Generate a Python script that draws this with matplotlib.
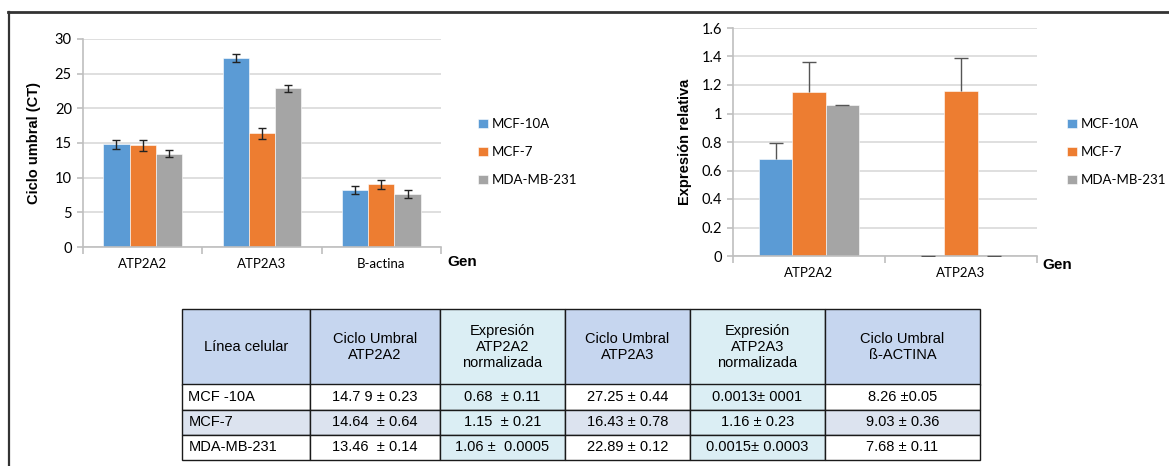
import matplotlib
matplotlib.use('Agg')
import matplotlib.pyplot as plt
from matplotlib.lines import Line2D
import numpy as np

# data
lineas = ['MCF-10A', 'MCF-7', 'MDA-MB-231']
colores = ['#5b9bd5', '#ed7d31', '#a5a5a5']

genes_ct = ['ATP2A2', 'ATP2A3', 'B-actina']
ct_mcf10a = [14.79, 27.25, 8.26]
ct_mcf7 = [14.64, 16.43, 9.03]
ct_mda = [13.46, 22.89, 7.68]
ct_err_mcf10a = [0.6, 0.6, 0.6]
ct_err_mcf7 = [0.8, 0.8, 0.6]
ct_err_mda = [0.5, 0.5, 0.6]

genes_expr = ['ATP2A2', 'ATP2A3']
expr_mcf10a = [0.68, 0.0013]
expr_mcf7 = [1.15, 1.16]
expr_mda = [1.06, 0.0015]
expr_err_mcf10a = [0.11, 0.0001]
expr_err_mcf7 = [0.21, 0.23]
expr_err_mda = [0.0005, 0.0003]

tabla_cabecera = ['Línea celular', 'Ciclo Umbral\nATP2A2', 'Expresión\nATP2A2\nnormalizada',
                  'Ciclo Umbral\nATP2A3', 'Expresión\nATP2A3\nnormalizada', 'Ciclo Umbral\nß-ACTINA']
tabla_filas = [
    ['MCF -10A', '14.7 9 ± 0.23', '0.68  ± 0.11', '27.25 ± 0.44', '0.0013± 0001', '8.26 ±0.05'],
    ['MCF-7', '14.64  ± 0.64', '1.15  ± 0.21', '16.43 ± 0.78', '1.16 ± 0.23', '9.03 ± 0.36'],
    ['MDA-MB-231', '13.46  ± 0.14', '1.06 ±  0.0005', '22.89 ± 0.12', '0.0015± 0.0003', '7.68 ± 0.11'],
]

W, H = 1169, 466
plt.rcParams['font.family'] = ['Lato', 'DejaVu Sans']
fig = plt.figure(figsize=(W / 100, H / 100), dpi=100)


def px_axes(x0, y0, x1, y1):
    return fig.add_axes([x0 / W, 1 - y1 / H, (x1 - x0) / W, (y1 - y0) / H])


def style_axes(ax, ncat):
    for s in ['top', 'right']:
        ax.spines[s].set_visible(False)
    for s in ['left', 'bottom']:
        ax.spines[s].set_color('#bfbfbf')
        ax.spines[s].set_linewidth(1.2)
    ax.yaxis.grid(True, color='#d9d9d9', linewidth=1.2)
    ax.set_axisbelow(True)
    ax.set_xlim(-0.5, ncat - 0.5)
    ax.set_xticks(np.arange(ncat))
    ax.set_xticks(np.arange(ncat + 1) - 0.5, minor=True)
    ax.tick_params(axis='x', which='major', length=0, labelsize=9.5, pad=8)
    ax.tick_params(axis='x', which='minor', length=5, color='#bfbfbf', width=1.2)
    ax.tick_params(axis='y', length=4, color='#bfbfbf', width=1.2, labelsize=10.5, pad=4)


def grouped_bars(ax, cats, series, errs, err_style, hide_low_cap=False):
    x = np.arange(len(cats))
    w = 0.22
    for i, (vals, e) in enumerate(zip(series, errs)):
        ax.bar(x + (i - 1) * w, vals, w, color=colores[i], label=lineas[i],
               edgecolor='white', linewidth=0.4, zorder=2)
        eb = ax.errorbar(x + (i - 1) * w, vals, yerr=e, fmt='none', zorder=3, **err_style)
        if hide_low_cap:
            eb[1][0].set_visible(False)
    ax.set_xticks(x, cats)


def leyenda(ax, x_px, size):
    ax.legend(loc='center left', bbox_to_anchor=(x_px / W, 1 - 152 / H), bbox_transform=fig.transFigure,
              frameon=False, fontsize=size, labelspacing=1.2, handlelength=0.7, handleheight=0.7,
              handletextpad=0.3, borderaxespad=0)


# left chart
ax1 = px_axes(83, 39, 441, 247)
style_axes(ax1, len(genes_ct))
grouped_bars(ax1, genes_ct, [ct_mcf10a, ct_mcf7, ct_mda],
             [ct_err_mcf10a, ct_err_mcf7, ct_err_mda],
             dict(ecolor='#222222', elinewidth=1.0, capsize=3, capthick=1.0))
ax1.set_ylim(0, 30)
ax1.set_yticks(np.arange(0, 31, 5))
ax1.set_ylabel('Ciclo umbral (CT)', fontsize=10.5, fontweight='bold',
               family='Liberation Sans', labelpad=10)
leyenda(ax1, 473, 9.5)
fig.text(447 / W, 1 - 262 / H, 'Gen', fontsize=11, fontweight='bold', family='Liberation Sans',
         va='center', ha='left')

# right chart
ax2 = px_axes(733, 28, 1037, 256)
style_axes(ax2, len(genes_expr))
yerr_up = [expr_err_mcf10a, expr_err_mcf7, expr_err_mda]
grouped_bars(ax2, genes_expr, [expr_mcf10a, expr_mcf7, expr_mda],
             [[np.zeros(len(e)), e] for e in yerr_up],
             dict(ecolor='#555555', elinewidth=1.0, capsize=5, capthick=1.0), hide_low_cap=True)
ax2.set_ylim(0, 1.6)
ax2.set_yticks(np.arange(0, 1.61, 0.2))
ax2.set_yticklabels(['0', '0.2', '0.4', '0.6', '0.8', '1', '1.2', '1.4', '1.6'])
ax2.set_ylabel('Expresión relativa', fontsize=10.5, fontweight='bold',
               family='Liberation Sans', labelpad=7)
leyenda(ax2, 1062, 9.5)
fig.text(1042 / W, 1 - 265 / H, 'Gen', fontsize=11, fontweight='bold', family='Liberation Sans',
         va='center', ha='left')

# table
ax3 = px_axes(182, 309, 980, 460)
ax3.axis('off')
col_px = np.array([128, 130, 125, 125, 135, 155])
tab = ax3.table(cellText=tabla_filas, colLabels=tabla_cabecera, colWidths=list(col_px / col_px.sum()),
                cellLoc='center', bbox=[0, 0, 1, 1])
tab.auto_set_font_size(False)
azul_cab = '#c6d6ef'
cian = '#dbeef4'
gris_azul = '#dce3ef'
narrow = ['Liberation Sans Narrow', 'Liberation Sans', 'DejaVu Sans']
for (r, c), cell in tab.get_celld().items():
    cell.set_edgecolor('#1a1a1a')
    cell.set_linewidth(1.0)
    cell.set_height(3.0 if r == 0 else 1.0)
    txt = cell.get_text()
    txt.set_fontsize(10.5)
    txt.set_family(narrow)
    if c in (2, 4):
        cell.set_facecolor(cian)
    elif r == 0:
        cell.set_facecolor(azul_cab)
    elif r == 2:
        cell.set_facecolor(gris_azul)
    else:
        cell.set_facecolor('white')
    if r > 0 and c == 0:
        txt.set_horizontalalignment('left')
        cell._loc = 'left'
        cell.PAD = 0.05

# outer frame
fig.add_artist(Line2D([8 / W, 1], [1 - 12 / H, 1 - 12 / H], color='#333333', linewidth=2.0))
fig.add_artist(Line2D([9 / W, 9 / W], [1 - 12 / H, 0], color='#333333', linewidth=1.6))

fig.savefig('out.png', dpi=100)
